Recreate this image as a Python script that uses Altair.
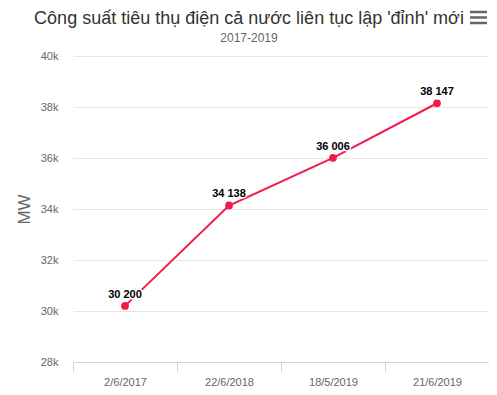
import altair as alt
import pandas as pd

dates = ["2/6/2017", "22/6/2018", "18/5/2019", "21/6/2019"]
values = [30200, 34138, 36006, 38147]
labels = [f"{v:,}".replace(",", " ") for v in values]
title_text = "Công suất tiêu thụ điện cả nước liên tục lập 'đỉnh' mới"
subtitle_text = "2017-2019"

df = pd.DataFrame({"date": dates, "value": values, "label": labels})
head = pd.DataFrame({"t": [title_text]})

LINE = "#f5194b"
FONT = "Liberation Sans"

x = alt.X("date:N", sort=dates, title=None,
          scale=alt.Scale(paddingInner=0, paddingOuter=0),
          axis=alt.Axis(labelAngle=0, tickBand="extent", grid=False,
                        domainColor="#ccd6eb", tickColor="#ccd6eb",
                        tickSize=10, labelColor="#666666", labelFontSize=11,
                        labelFont=FONT, labelPadding=4))
y = alt.Y("value:Q", title="MW",
          scale=alt.Scale(domain=[28000, 40000], nice=False, zero=False),
          axis=alt.Axis(values=list(range(28000, 40001, 2000)),
                        labelExpr="datum.value/1000 + 'k'",
                        domain=False, ticks=False, gridColor="#e6e6e6",
                        labelColor="#666666", labelFontSize=11, labelFont=FONT,
                        labelPadding=15, titleColor="#666666", titleFontSize=17,
                        titleFontWeight="normal", titleFont=FONT,
                        titleX=-49, titleY=153, titleAngle=-90,
                        titleAlign="center", titleBaseline="middle"))

base = alt.Chart(df).encode(x=x, y=y)
line = base.mark_line(color=LINE, strokeWidth=2)
pts = base.mark_circle(color=LINE, size=60, opacity=1)
halo = base.mark_text(baseline="bottom", dy=-6, fontSize=11, fontWeight="bold",
                      font=FONT, stroke="white", strokeWidth=3,
                      strokeJoin="round", fill="white").encode(text="label:N")
txt = base.mark_text(baseline="bottom", dy=-6, fontSize=11, fontWeight="bold",
                     font=FONT, color="black").encode(text="label:N")

title_m = alt.Chart(head).mark_text(
    text=title_text, font=FONT, fontSize=18, color="#333333",
    align="center", baseline="alphabetic").encode(
    x=alt.value(176), y=alt.value(-32))
sub_m = alt.Chart(head).mark_text(
    text=subtitle_text, font=FONT, fontSize=12, color="#666666",
    align="center", baseline="alphabetic").encode(
    x=alt.value(176), y=alt.value(-14))

# export-menu icon (three bars)
menu_layers = [
    alt.Chart(head).mark_rule(color="#666666", strokeWidth=2.5).encode(
        x=alt.value(397), x2=alt.value(414), y=alt.value(yy))
    for yy in (-44, -38.5, -33)
]

chart = alt.layer(line, pts, halo, txt, title_m, sub_m, *menu_layers).properties(
    width=416, height=306,
    padding={"left": 65, "top": 48, "right": 0, "bottom": 24},
    autosize=alt.AutoSizeParams(type="none"),
).configure_view(stroke=None)

chart.save("out.html", embed_options={"renderer": "svg", "actions": False})
